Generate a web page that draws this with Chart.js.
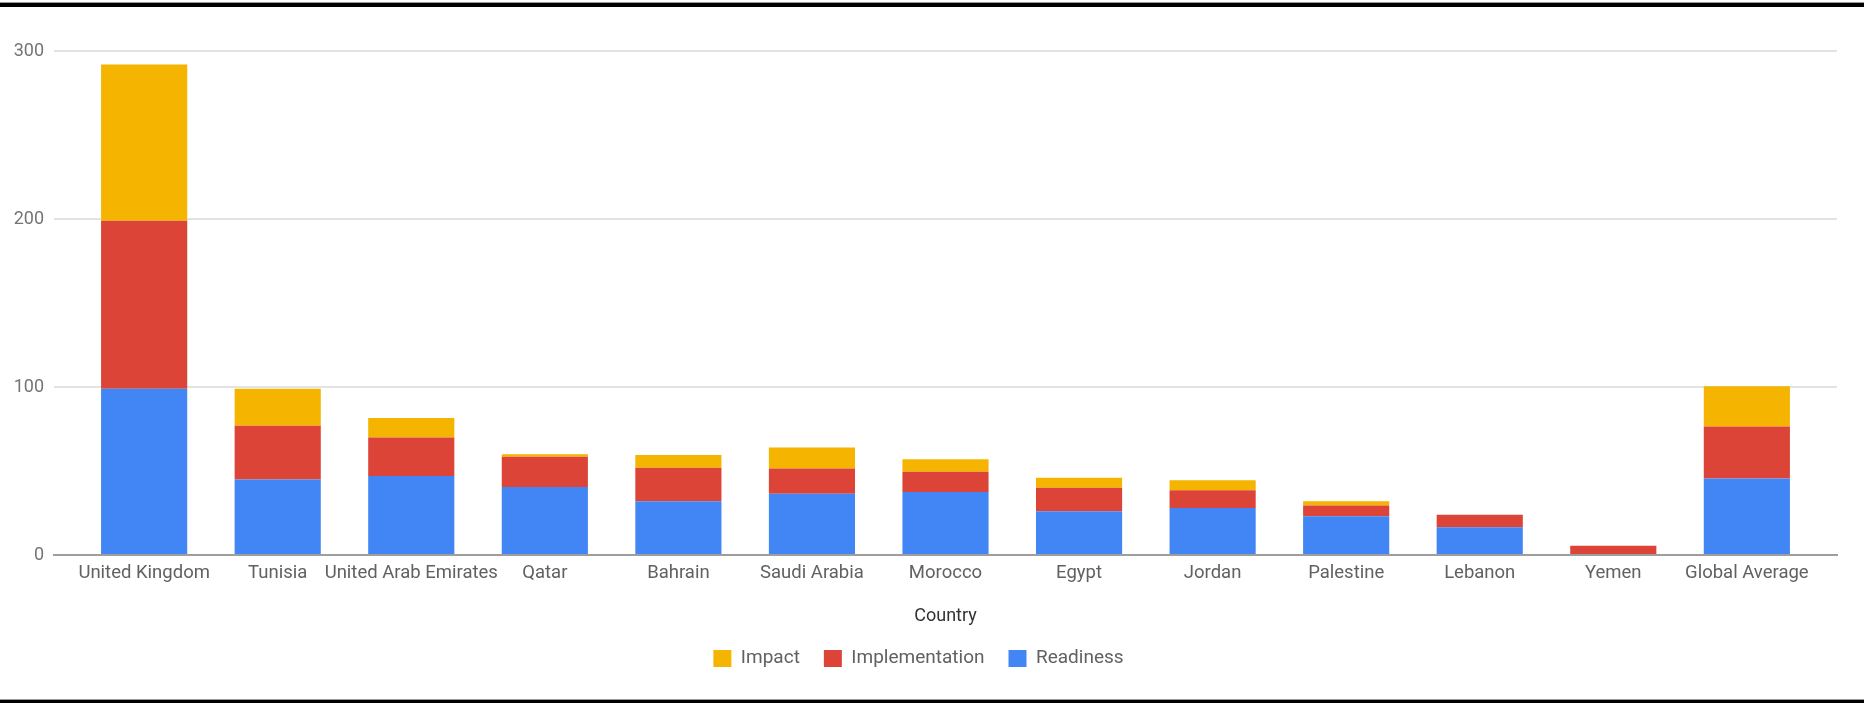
<!DOCTYPE html>
<html>
<head>
<meta charset="utf-8">
<script src="https://cdn.jsdelivr.net/npm/chart.js@4"></script>
<style>
  html, body { margin: 0; padding: 0; background: #ffffff; }
  #wrap { position: relative; width: 1864px; height: 703px; overflow: hidden; background: #fff; }
  #topline { position: absolute; left: 0; top: 2px; width: 1864px; height: 1px; background: #9a9a9a; }
  #topbar { position: absolute; left: 0; top: 3px; width: 1864px; height: 4px; background: #000; }
  #botline { position: absolute; left: 0; top: 699px; width: 1864px; height: 1px; background: #9a9a9a; }
  #botbar { position: absolute; left: 0; top: 700px; width: 1864px; height: 3px; background: #000; }
  canvas { position: absolute; left: 0; top: 0; }
</style>
</head>
<body>
<div id="wrap">
  <canvas id="c" width="1864" height="703"></canvas>
  <div id="topline"></div><div id="topbar"></div>
  <div id="botline"></div><div id="botbar"></div>
</div>
<script>
const categories = ["United Kingdom", "Tunisia", "United Arab Emirates", "Qatar", "Bahrain", "Saudi Arabia", "Morocco", "Egypt", "Jordan", "Palestine", "Lebanon", "Yemen", "Global Average"];
const readiness      = [99, 45, 47, 40.5, 32, 36.5, 37.5, 26, 28, 23, 16.5, 0, 45.5];
const implementation = [100, 32, 23, 18, 20, 15, 12, 14, 10.5, 6.5, 7.5, 5.5, 31];
const impact         = [93, 22, 11.5, 1.5, 7.5, 12.5, 7.5, 6, 6, 2.5, 0, 0, 24];
const yTicks = [0, 100, 200, 300];

const toPoints = arr => arr.map((v, i) => ({ x: i, y: v }));
const FONT = "Roboto, 'Noto Sans', Arial, sans-serif";

new Chart(document.getElementById('c'), {
  type: 'bar',
  data: {
    datasets: [
      { label: 'Readiness', data: toPoints(readiness), backgroundColor: '#4285F4' },
      { label: 'Implementation', data: toPoints(implementation), backgroundColor: '#DB4437' },
      { label: 'Impact', data: toPoints(impact), backgroundColor: '#F4B400' }
    ]
  },
  options: {
    responsive: false,
    animation: false,
    devicePixelRatio: 1,
    layout: { padding: { top: 51, right: 27, left: 0, bottom: 25 } },
    datasets: { bar: { barPercentage: 0.645, categoryPercentage: 1.0, borderWidth: 0 } },
    scales: {
      x: {
        type: 'linear',
        stacked: true,
        offset: false,
        min: -0.675,
        max: 12.675,
        afterBuildTicks: scale => { scale.ticks = categories.map((_, i) => ({ value: i })); },
        afterFit: scale => { scale.height = 70; },
        grid: { display: false, drawTicks: false, offset: false },
        border: { display: true, color: '#9e9e9e', width: 2 },
        ticks: {
          autoSkip: false, maxRotation: 0, minRotation: 0, padding: 7,
          color: '#616161', font: { family: FONT, size: 18.5 },
          callback: v => categories[v] !== undefined ? categories[v] : ''
        },
        title: {
          display: true, text: 'Country', color: '#333333',
          font: { family: FONT, size: 18 }, padding: { top: 0, bottom: -2 }
        }
      },
      y: {
        stacked: true,
        min: 0,
        max: 300,
        afterBuildTicks: scale => { scale.ticks = yTicks.map(v => ({ value: v })); },
        afterFit: scale => { scale.width = 54; },
        grid: { color: '#e3e3e3', lineWidth: 2, drawTicks: false },
        border: { display: false },
        ticks: { padding: 10, color: '#757575', font: { family: FONT, size: 18 } }
      }
    },
    plugins: {
      tooltip: { enabled: false },
      legend: {
        position: 'bottom',
        reverse: true,
        labels: {
          boxWidth: 18, boxHeight: 17, padding: 24,
          color: '#616161', font: { family: FONT, size: 19 }
        }
      }
    }
  }
});
</script>
</body>
</html>
